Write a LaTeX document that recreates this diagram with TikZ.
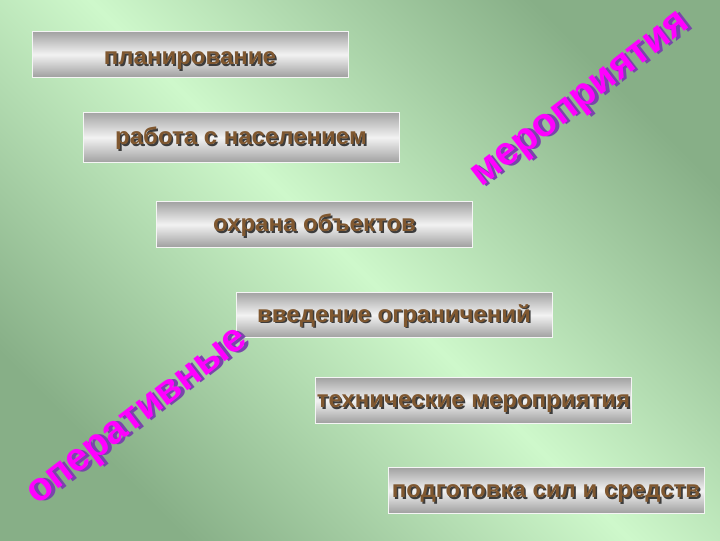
\documentclass[tikz,border=0pt]{standalone}
\usepackage{fontspec}
\setmainfont{Liberation Sans}
\usetikzlibrary{positioning}
\definecolor{bgdark}{RGB}{135,175,135}
\definecolor{bglight}{RGB}{206,248,203}
\definecolor{txtbrown}{RGB}{128,88,48}
\definecolor{txtshadow}{RGB}{60,60,60}
\definecolor{bigpink}{RGB}{255,0,255}
\definecolor{bigshadow}{RGB}{120,70,170}
\newcommand{\boxtext}[1]{\makebox[0pt][l]{\hspace{1.2pt}\raisebox{-1.2pt}{\textcolor{txtshadow}{#1}}}\textcolor{txtbrown}{#1}}
\newcommand{\bigtext}[1]{\makebox[0pt][l]{\hspace{2pt}\raisebox{-2pt}{\textcolor{bigshadow}{#1}}}\textcolor{bigpink}{#1}}
\tikzset{
  stepbar/.style={rectangle, minimum width=237pt, minimum height=34pt, inner sep=0pt,
    top color=gray!72, bottom color=gray!75, middle color=gray!10,
    draw=white!92!gray, line width=0.6pt,
    text height=11pt, text depth=0pt, font=\bfseries\fontsize{18}{20}\selectfont},
  diagword/.style={inner sep=0pt, rotate=37.5, font=\bfseries\fontsize{30}{32}\selectfont}
}
\begin{document}
\begin{tikzpicture}[x=0.75pt, y=-0.75pt]
  % background
  \useasboundingbox (0,0) rectangle (720,540);
  \shade[top color=bgdark, bottom color=bgdark, middle color=bglight, shading angle=-45]
    (0,0) rectangle (720,540);
  % draw bars
  \node[stepbar, text height=15pt] (plan) at (190,54.5) {\boxtext{планирование}};
  \node[stepbar, minimum height=38pt] (people) at (241,137.5) {\boxtext{работа с населением}};
  \node[stepbar] (guard) at (314.5,224.5) {\boxtext{охрана объектов}};
  \node[stepbar] (limits) at (394,315) {\boxtext{введение ограничений}};
  \node[stepbar] (tech) at (473.5,400.5) {\boxtext{технические мероприятия}};
  \node[stepbar] (forces) at (546,490.5) {\boxtext{подготовка сил и средств}};
  % draw diagonal words
  \node[diagword] (events) at (583,103) {\bigtext{мероприятия}};
  \node[diagword] (oper) at (140,420) {\bigtext{оперативные}};
\end{tikzpicture}
\end{document}
